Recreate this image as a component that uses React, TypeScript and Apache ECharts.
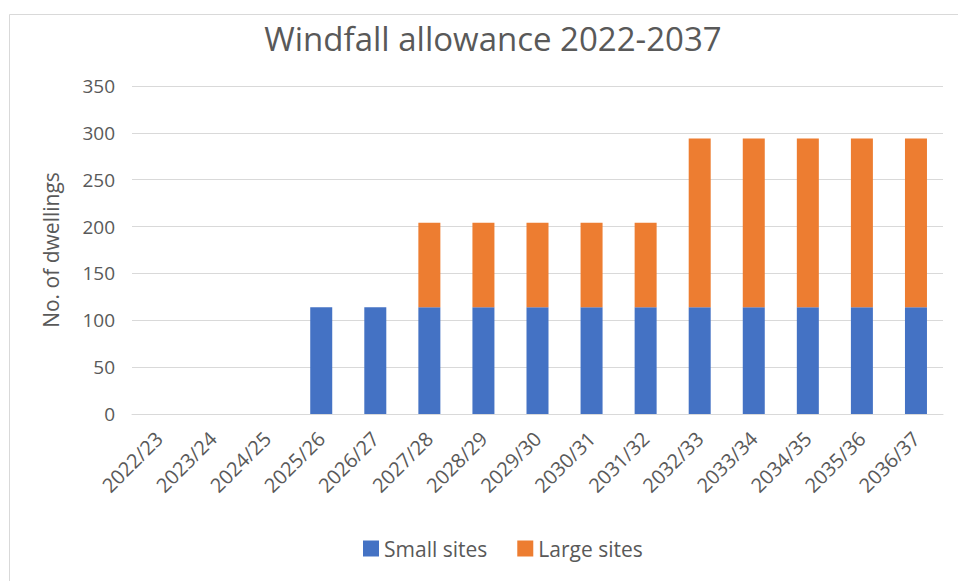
import React, { useEffect, useRef } from "react";
import * as echarts from "echarts";

const categories = [
  "2022/23", "2023/24", "2024/25", "2025/26", "2026/27", "2027/28", "2028/29", "2029/30",
  "2030/31", "2031/32", "2032/33", "2033/34", "2034/35", "2035/36", "2036/37",
];
const smallSites = [0, 0, 0, 114, 114, 114, 114, 114, 114, 114, 114, 114, 114, 114, 114];
const largeSites = [0, 0, 0, 0, 0, 90, 90, 90, 90, 90, 180, 180, 180, 180, 180];
const yTicks = [0, 50, 100, 150, 200, 250, 300, 350];

const FONT = "'Open Sans', 'Noto Sans', sans-serif";
const TXT = "#595959";

export default function App() {
  const ref = useRef<HTMLDivElement>(null);
  useEffect(() => {
    if (!ref.current) return;
    const chart = echarts.init(ref.current, undefined, { renderer: "svg" });
    chart.setOption({
      animation: false,
      backgroundColor: "#ffffff",
      textStyle: { fontFamily: FONT },
      title: {
        text: "Windfall allowance 2022-2037",
        left: 488,
        textAlign: "center",
        top: 17,
        textStyle: { fontFamily: FONT, fontSize: 33, fontWeight: "normal", color: TXT },
      },
      graphic: [
        {
          type: "rect",
          shape: { x: 9.5, y: 14.5, width: 1000, height: 1000 },
          style: { fill: "none", stroke: "#d9d9d9", lineWidth: 1 },
          silent: true,
          z: -1,
        },
      ],
      legend: {
        bottom: 17,
        left: 358,
        itemWidth: 16,
        itemHeight: 16,
        itemGap: 30,
        icon: "rect",
        textStyle: { fontFamily: FONT, fontSize: 21, color: TXT },
        data: ["Small sites", "Large sites"],
      },
      grid: { left: 132, right: 15, top: 86, bottom: 167, containLabel: false },
      xAxis: {
        type: "category",
        data: categories,
        axisLine: { lineStyle: { color: "#d9d9d9" } },
        axisTick: { show: false },
        axisLabel: {
          rotate: 45,
          fontFamily: FONT,
          fontSize: 20,
          color: TXT,
          margin: 21,
          interval: 0,
        },
      },
      yAxis: {
        type: "value",
        min: yTicks[0],
        max: yTicks[yTicks.length - 1],
        interval: 50,
        name: "No. of dwellings",
        nameLocation: "middle",
        nameGap: 71,
        nameTextStyle: { fontFamily: FONT, fontSize: 21, color: TXT },
        axisLine: { show: false },
        axisTick: { show: false },
        axisLabel: { fontFamily: FONT, fontSize: 19, color: TXT, margin: 17 },
        splitLine: { lineStyle: { color: "#d9d9d9" } },
      },
      series: [
        {
          name: "Small sites",
          type: "bar",
          stack: "total",
          data: smallSites,
          barWidth: 22,
          itemStyle: { color: "#4472C4" },
        },
        {
          name: "Large sites",
          type: "bar",
          stack: "total",
          data: largeSites,
          barWidth: 22,
          itemStyle: { color: "#ED7D31" },
        },
      ],
    });
    return () => chart.dispose();
  }, []);
  return (
    <div
      ref={ref}
      style={{ position: "absolute", left: 0, top: 0, width: 958, height: 581 }}
    />
  );
}
